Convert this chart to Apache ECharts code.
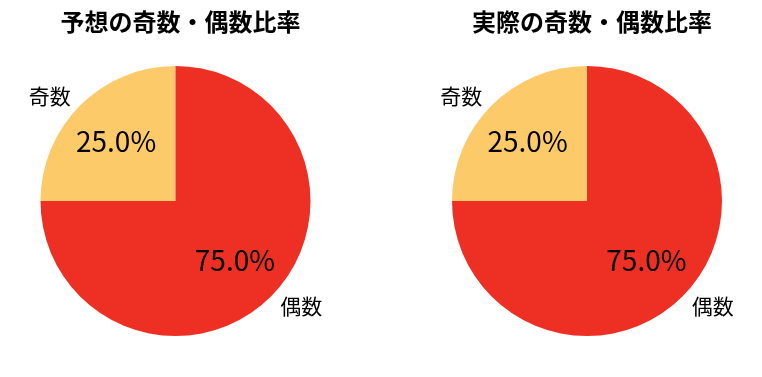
<!DOCTYPE html>
<html lang="ja">
<head>
<meta charset="UTF-8">
<title>奇数・偶数比率</title>
<script src="https://cdn.jsdelivr.net/npm/echarts@6/dist/echarts.min.js"></script>
<style>
  html, body { margin: 0; padding: 0; background: #fff; }
  #main { width: 762px; height: 377px; }
</style>
</head>
<body>
<div id="main"></div>
<script>
const titles = ['予想の奇数・偶数比率', '実際の奇数・偶数比率'];
const categories = ['奇数', '偶数'];
const predictedValues = [25, 75];
const actualValues = [25, 75];
const colors = ['#FDCA6A', '#EE3024'];

const FONT = '"Noto Sans CJK JP", "Noto Sans", sans-serif';
const R = 135;
const centers = [[175.5, 201], [587, 201]];
const allValues = [predictedValues, actualValues];
// nudge name labels up a little (matplotlib baseline alignment)
const namePad = [[0, 0, 8, 0], [0, 0, 4, 0]];

const chart = echarts.init(document.getElementById('main'));

const series = [];
allValues.forEach((vals, i) => {
    // main pie with outside names
    series.push({
        type: 'pie',
        center: centers[i],
        radius: [0, R],
        startAngle: 90,
        clockwise: false,
        avoidLabelOverlap: false,
        silent: true,
        color: colors,
        data: categories.map((c, k) => ({
            name: c,
            value: vals[k],
            label: { padding: namePad[k] }
        })),
        label: {
            show: true,
            position: 'outside',
            formatter: '{b}',
            color: '#000',
            fontSize: 21,
            fontFamily: FONT,
            distanceToLabelLine: 0
        },
        labelLine: { show: false, length: 13, length2: 0 }
    });
    // transparent ring carrying the percent labels at 0.6 r
    series.push({
        type: 'pie',
        center: centers[i],
        radius: [27, R],
        startAngle: 90,
        clockwise: false,
        avoidLabelOverlap: false,
        silent: true,
        data: categories.map((c, k) => ({ name: c, value: vals[k] })),
        itemStyle: { color: 'rgba(0,0,0,0)' },
        label: {
            show: true,
            position: 'inside',
            formatter: p => p.percent.toFixed(1) + '%',
            color: '#000',
            fontSize: 28,
            fontFamily: FONT,
            padding: [0, 0, 3, 0]
        },
        labelLine: { show: false }
    });
});

chart.setOption({
    animation: false,
    backgroundColor: '#fff',
    title: titles.map((t, i) => ({
        text: t,
        left: centers[i][0],
        top: 5,
        textAlign: 'center',
        textStyle: { fontSize: 24, fontWeight: 'bold', fontFamily: FONT, color: '#000' }
    })),
    series: series
});
</script>
</body>
</html>
